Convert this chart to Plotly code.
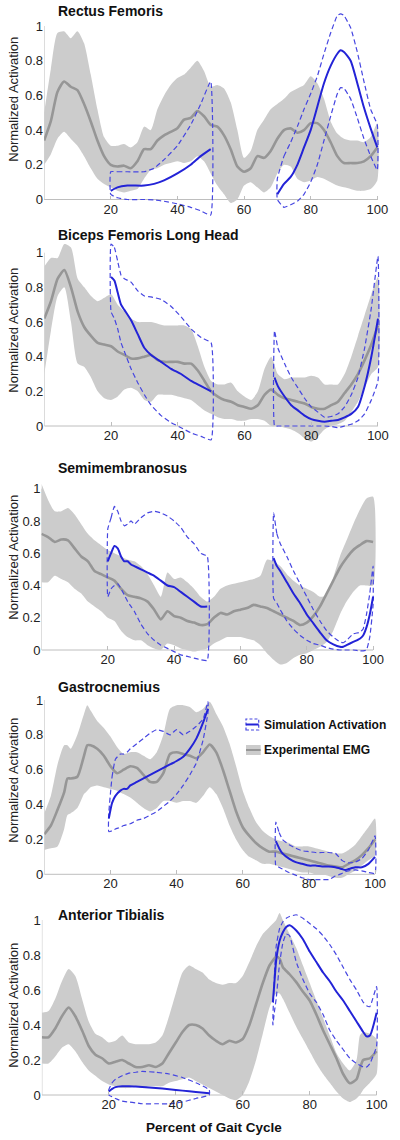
import plotly.graph_objects as go

W, H = 400, 1140
FONT = "Liberation Sans, Arial, Helvetica, sans-serif"

titles = ["Rectus Femoris", "Biceps Femoris Long Head", "Semimembranosus",
          "Gastrocnemius", "Anterior Tibialis"]
x_ticks = [20, 40, 60, 80, 100]
y_ticks = [0, 0.2, 0.4, 0.6, 0.8, 1]
y_tick_text = ["0", "0.2", "0.4", "0.6", "0.8", "1"]
y_label = "Normalized Activation"
x_label = "Percent of Gait Cycle"
legend_sim = "Simulation Activation"
legend_emg = "Experimental EMG"

step2 = list(range(0, 101, 2))

# ---------------- Rectus Femoris ----------------
rf_emg_x = step2
rf_emg_mean = [0.34, 0.45, 0.62, 0.68, 0.65, 0.63, 0.55, 0.45, 0.34, 0.25, 0.20, 0.19, 0.195, 0.18, 0.22, 0.29, 0.29,
               0.34, 0.37, 0.39, 0.41, 0.46, 0.47, 0.51, 0.48, 0.43, 0.42, 0.37, 0.29, 0.19, 0.16, 0.18, 0.25, 0.24,
               0.28, 0.35, 0.40, 0.41, 0.385, 0.40, 0.44, 0.44, 0.40, 0.33, 0.25, 0.21, 0.21, 0.21, 0.22, 0.25, 0.30]
rf_emg_upper = [0.50, 0.75, 0.96, 0.97, 0.93, 0.97, 0.90, 0.72, 0.52, 0.36, 0.31, 0.31, 0.32, 0.30, 0.33, 0.42, 0.40,
                0.52, 0.60, 0.66, 0.70, 0.72, 0.76, 0.80, 0.74, 0.65, 0.66, 0.64, 0.56, 0.40, 0.24, 0.28, 0.40, 0.46,
                0.52, 0.55, 0.58, 0.62, 0.64, 0.66, 0.71, 0.67, 0.58, 0.45, 0.38, 0.35, 0.34, 0.34, 0.33, 0.36, 0.44]
rf_emg_lower = [0.20, 0.26, 0.35, 0.39, 0.35, 0.31, 0.25, 0.18, 0.12, 0.09, 0.07, 0.05, 0.04, 0.05, 0.06, 0.12, 0.17,
                0.18, 0.20, 0.21, 0.22, 0.21, 0.22, 0.25, 0.22, 0.15, 0.08, 0.03, -0.02, 0.0, 0.08, 0.10, 0.07, 0.04,
                0.07, 0.15, 0.20, 0.19, 0.12, 0.10, 0.11, 0.13, 0.12, 0.10, 0.08, 0.07, 0.06, 0.05, 0.05, 0.06, 0.11]
rf_p1_x = [20, 22, 25, 30, 33, 36, 40, 44, 47, 50]
rf_p1_sim = [0.05, 0.07, 0.08, 0.08, 0.09, 0.11, 0.15, 0.20, 0.25, 0.29]
rf_p1_up = [0.16, 0.16, 0.16, 0.16, 0.18, 0.23, 0.31, 0.43, 0.55, 0.68]
rf_p1_lo = [0.03, 0.01, 0.0, 0.0, -0.002, -0.01, -0.025, -0.045, -0.065, -0.09]
rf_p2_x = [70, 72, 74, 76, 78, 80, 82, 84, 86, 88, 89, 90, 92, 94, 96, 98, 100]
rf_p2_sim = [0.03, 0.09, 0.13, 0.20, 0.30, 0.40, 0.535, 0.67, 0.77, 0.84, 0.86, 0.85, 0.80, 0.67, 0.53, 0.41, 0.30]
rf_p2_up = [0.12, 0.25, 0.33, 0.42, 0.52, 0.61, 0.71, 0.84, 0.96, 1.06, 1.07, 1.06, 0.99, 0.85, 0.68, 0.52, 0.43]
rf_p2_lo = [0.0, -0.045, -0.03, -0.01, 0.03, 0.10, 0.20, 0.34, 0.48, 0.61, 0.645, 0.64, 0.58, 0.47, 0.35, 0.25, 0.17]

# ---------------- Biceps Femoris Long Head ----------------
bf_emg_x = step2
bf_emg_mean = [0.62, 0.72, 0.85, 0.90, 0.80, 0.66, 0.57, 0.52, 0.48, 0.47, 0.46, 0.43, 0.41, 0.39, 0.39, 0.40, 0.41,
               0.38, 0.37, 0.37, 0.37, 0.36, 0.36, 0.32, 0.26, 0.20, 0.17, 0.15, 0.14, 0.12, 0.11, 0.10, 0.12, 0.18,
               0.21, 0.18, 0.16, 0.15, 0.14, 0.13, 0.11, 0.10, 0.10, 0.12, 0.14, 0.19, 0.24, 0.30, 0.38, 0.47, 0.58]
bf_emg_upper = [0.92, 0.97, 0.97, 1.05, 1.03, 0.85, 0.80, 0.75, 0.72, 0.74, 0.76, 0.70, 0.66, 0.62, 0.60, 0.60, 0.60,
                0.59, 0.58, 0.58, 0.58, 0.58, 0.56, 0.46, 0.34, 0.26, 0.24, 0.24, 0.25, 0.20, 0.17, 0.15, 0.20, 0.33,
                0.40, 0.30, 0.27, 0.28, 0.28, 0.28, 0.29, 0.28, 0.24, 0.24, 0.24, 0.30, 0.40, 0.52, 0.64, 0.76, 0.86]
bf_emg_lower = [0.30, 0.55, 0.75, 0.80, 0.60, 0.36, 0.34, 0.28, 0.20, 0.16, 0.15, 0.17, 0.21, 0.22, 0.20, 0.15, 0.14,
                0.18, 0.18, 0.18, 0.17, 0.16, 0.15, 0.12, 0.09, 0.07, 0.05, 0.04, 0.04, 0.03, 0.03, 0.04, 0.04, 0.03,
                0.0, 0.0, -0.01, -0.02, -0.04, -0.07, -0.09, -0.06, -0.02, 0.0, 0.01, 0.03, 0.08, 0.14, 0.22, 0.30, 0.34]
bf_p1_x = [20, 21, 22, 23, 24, 26, 28, 30, 32, 35, 38, 41, 44, 47, 50]
bf_p1_sim = [0.86, 0.84, 0.77, 0.70, 0.67, 0.61, 0.53, 0.45, 0.41, 0.37, 0.33, 0.30, 0.26, 0.23, 0.20]
bf_p1_up = [1.05, 1.03, 0.95, 0.87, 0.85, 0.83, 0.78, 0.75, 0.745, 0.73, 0.69, 0.63, 0.56, 0.51, 0.48]
bf_p1_lo = [0.66, 0.62, 0.56, 0.48, 0.43, 0.33, 0.25, 0.18, 0.12, 0.06, 0.02, -0.01, -0.04, -0.06, -0.08]
bf_p2_x = [69, 70, 72, 74, 76, 78, 80, 82, 84, 86, 88, 90, 92, 94, 96, 98, 100]
bf_p2_sim = [0.28, 0.23, 0.17, 0.12, 0.09, 0.06, 0.04, 0.03, 0.025, 0.03, 0.035, 0.05, 0.07, 0.11, 0.23, 0.40, 0.62]
bf_p2_up = [0.55, 0.45, 0.36, 0.28, 0.22, 0.16, 0.11, 0.08, 0.05, 0.055, 0.07, 0.11, 0.18, 0.28, 0.45, 0.68, 0.98]
bf_p2_lo = [0.0, 0.0, 0.0, 0.0, 0.0, 0.0, 0.0, 0.0, 0.0, -0.003, -0.01, 0.0, 0.01, 0.03, 0.07, 0.15, 0.26]

# ---------------- Semimembranosus ----------------
sm_emg_x = step2
sm_emg_mean = [0.72, 0.70, 0.67, 0.685, 0.68, 0.63, 0.58, 0.55, 0.49, 0.47, 0.45, 0.43, 0.38, 0.34, 0.33, 0.32, 0.30,
               0.25, 0.19, 0.24, 0.21, 0.20, 0.18, 0.17, 0.155, 0.16, 0.20, 0.23, 0.22, 0.24, 0.25, 0.26, 0.28, 0.27,
               0.26, 0.24, 0.22, 0.20, 0.18, 0.155, 0.17, 0.21, 0.27, 0.35, 0.43, 0.51, 0.57, 0.62, 0.65, 0.675, 0.67]
sm_emg_upper = [1.03, 0.93, 0.86, 0.86, 0.88, 0.84, 0.78, 0.72, 0.68, 0.65, 0.62, 0.60, 0.58, 0.56, 0.55, 0.52, 0.47,
                0.40, 0.33, 0.48, 0.44, 0.45, 0.42, 0.38, 0.33, 0.30, 0.33, 0.38, 0.40, 0.41, 0.42, 0.43, 0.44, 0.46,
                0.56, 0.55, 0.52, 0.47, 0.43, 0.40, 0.38, 0.36, 0.33, 0.34, 0.45, 0.58, 0.68, 0.78, 0.87, 0.94, 0.95]
sm_emg_lower = [0.42, 0.42, 0.46, 0.44, 0.42, 0.38, 0.35, 0.30, 0.27, 0.24, 0.20, 0.18, 0.12, 0.08, 0.06, 0.06, 0.03,
                0.01, 0.0, 0.04, 0.03, 0.01, 0.0, -0.01, 0.0, 0.01, 0.04, 0.06, 0.08, 0.08, 0.08, 0.07, 0.06, 0.03,
                -0.02, -0.06, -0.09, -0.08, -0.05, -0.03, -0.02, 0.0, 0.02, 0.05, 0.12, 0.22, 0.30, 0.36, 0.40, 0.40, 0.40]
sm_p1_x = [20, 21, 22, 23, 24, 25, 26, 27, 28, 30, 32, 34, 36, 38, 40, 42, 44, 46, 48, 50]
sm_p1_sim = [0.55, 0.60, 0.645, 0.63, 0.58, 0.55, 0.55, 0.53, 0.52, 0.50, 0.48, 0.46, 0.43, 0.40, 0.39, 0.36, 0.33,
             0.30, 0.27, 0.27]
sm_p1_up = [0.75, 0.82, 0.89, 0.86, 0.80, 0.77, 0.78, 0.80, 0.78, 0.82, 0.85, 0.86, 0.85, 0.83, 0.80, 0.76, 0.70,
            0.66, 0.60, 0.58]
sm_p1_lo = [0.33, 0.38, 0.40, 0.41, 0.38, 0.34, 0.30, 0.27, 0.24, 0.16, 0.10, 0.06, 0.03, 0.01, -0.01, -0.03, -0.04,
            -0.05, -0.06, -0.065]
sm_p2_x = [70, 71, 72, 74, 76, 78, 80, 82, 84, 86, 88, 90, 91, 92, 94, 96, 97, 98, 99, 100]
sm_p2_sim = [0.57, 0.52, 0.49, 0.42, 0.35, 0.29, 0.22, 0.165, 0.11, 0.06, 0.035, 0.02, 0.02, 0.03, 0.05, 0.07, 0.09,
             0.14, 0.22, 0.33]
sm_p2_up = [0.85, 0.72, 0.66, 0.58, 0.49, 0.41, 0.33, 0.25, 0.18, 0.12, 0.08, 0.05, 0.045, 0.06, 0.10, 0.11, 0.13,
            0.22, 0.35, 0.52]
sm_p2_lo = [0.32, 0.29, 0.25, 0.18, 0.13, 0.09, 0.06, 0.04, 0.03, 0.015, 0.005, 0.0, 0.0, 0.0, 0.0, -0.005, -0.005,
            0.0, 0.08, 0.28]

# ---------------- Gastrocnemius ----------------
ga_emg_x = [0, 2, 4, 6, 7, 8, 10, 12, 13, 14] + list(range(16, 101, 2))
ga_emg_mean = [0.23, 0.28, 0.37, 0.47, 0.55, 0.55, 0.56, 0.68, 0.74, 0.74, 0.72, 0.68, 0.62, 0.58, 0.60, 0.62, 0.61,
               0.57, 0.53, 0.53, 0.58, 0.69, 0.70, 0.69, 0.68, 0.665, 0.70, 0.745, 0.70, 0.60, 0.48, 0.36, 0.27, 0.22,
               0.18, 0.15, 0.13, 0.13, 0.12, 0.11, 0.10, 0.09, 0.08, 0.07, 0.06, 0.05, 0.045, 0.04, 0.06, 0.08, 0.11,
               0.15, 0.20]
ga_emg_upper = [0.35, 0.45, 0.63, 0.74, 0.74, 0.72, 0.80, 0.92, 0.97, 0.94, 0.88, 0.84, 0.79, 0.73, 0.69, 0.70, 0.70,
                0.68, 0.66, 0.70, 0.80, 0.95, 0.97, 0.97, 0.96, 0.93, 0.95, 0.99, 0.92, 0.85, 0.75, 0.62, 0.48, 0.38,
                0.30, 0.25, 0.22, 0.20, 0.19, 0.18, 0.16, 0.16, 0.16, 0.15, 0.14, 0.13, 0.12, 0.12, 0.14, 0.17, 0.22,
                0.27, 0.32]
ga_emg_lower = [0.14, 0.15, 0.16, 0.26, 0.34, 0.35, 0.38, 0.46, 0.48, 0.50, 0.51, 0.50, 0.49, 0.48, 0.46, 0.44, 0.41,
                0.38, 0.36, 0.38, 0.42, 0.42, 0.41, 0.42, 0.42, 0.41, 0.45, 0.50, 0.46, 0.38, 0.28, 0.20, 0.14, 0.10,
                0.08, 0.06, 0.06, 0.05, 0.04, 0.03, 0.02, 0.01, 0.01, 0.0, 0.0, -0.01, -0.02, -0.02, 0.0, 0.02, 0.05,
                0.08, 0.11]
ga_p1_x = [19.5, 20.5, 21.5, 23, 24, 25, 26, 28, 30, 32, 34, 36, 38, 40, 42, 44, 46, 48, 49.5]
ga_p1_sim = [0.32, 0.41, 0.45, 0.48, 0.49, 0.49, 0.51, 0.53, 0.55, 0.57, 0.59, 0.61, 0.63, 0.65, 0.675, 0.72, 0.78,
             0.87, 0.95]
ga_p1_up = [0.35, 0.56, 0.66, 0.69, 0.69, 0.70, 0.72, 0.75, 0.78, 0.81, 0.83, 0.82, 0.80, 0.83, 0.80, 0.82, 0.85,
            0.89, 0.99]
ga_p1_lo = [0.245, 0.25, 0.26, 0.27, 0.28, 0.285, 0.29, 0.31, 0.32, 0.34, 0.36, 0.39, 0.42, 0.46, 0.51, 0.57, 0.64,
            0.77, 0.93]
ga_p2_x = [70, 71, 72, 74, 76, 78, 80, 82, 84, 86, 88, 90, 91, 92, 94, 96, 98, 100]
ga_p2_sim = [0.19, 0.15, 0.12, 0.09, 0.07, 0.06, 0.05, 0.05, 0.045, 0.045, 0.04, 0.03, 0.025, 0.03, 0.04, 0.04, 0.06,
             0.10]
ga_p2_up = [0.30, 0.24, 0.20, 0.17, 0.15, 0.135, 0.13, 0.125, 0.125, 0.125, 0.12, 0.08, 0.07, 0.065, 0.07, 0.09,
            0.14, 0.22]
ga_p2_lo = [0.05, 0.04, 0.03, 0.01, -0.005, -0.02, -0.03, -0.03, -0.03, -0.03, -0.01, 0.005, 0.015, 0.02, 0.025,
            0.02, 0.01, 0.005]

# ---------------- Anterior Tibialis ----------------
ta_emg_x = list(range(0, 71, 2)) + [71] + list(range(72, 95, 2)) + [95, 96, 98, 100]
ta_emg_mean = [0.33, 0.33, 0.38, 0.45, 0.50, 0.45, 0.37, 0.28, 0.23, 0.21, 0.18, 0.19, 0.20, 0.18, 0.16, 0.16, 0.17,
               0.16, 0.18, 0.24, 0.30, 0.36, 0.40, 0.40, 0.38, 0.34, 0.31, 0.29, 0.31, 0.30, 0.32, 0.40, 0.52, 0.64,
               0.74, 0.79, 0.78, 0.73, 0.69, 0.645, 0.59, 0.54, 0.46, 0.37, 0.29, 0.21, 0.12, 0.067, 0.09, 0.15, 0.20,
               0.21, 0.25]
ta_emg_upper = [0.47, 0.48, 0.55, 0.65, 0.72, 0.68, 0.55, 0.42, 0.35, 0.33, 0.30, 0.31, 0.34, 0.30, 0.29, 0.29, 0.29,
                0.30, 0.34, 0.45, 0.58, 0.70, 0.74, 0.72, 0.70, 0.66, 0.64, 0.63, 0.64, 0.64, 0.68, 0.76, 0.85, 0.92,
                0.96, 1.00, 1.04, 1.00, 0.92, 0.84, 0.74, 0.64, 0.54, 0.44, 0.34, 0.24, 0.18, 0.14, 0.20, 0.34, 0.36,
                0.35, 0.32]
ta_emg_lower = [0.18, 0.18, 0.22, 0.27, 0.29, 0.25, 0.19, 0.14, 0.11, 0.08, 0.06, 0.05, 0.04, 0.04, 0.05, 0.04, 0.05,
                0.05, 0.05, 0.07, 0.08, 0.09, 0.10, 0.08, 0.06, 0.04, 0.02, 0.0, -0.02, -0.03, 0.0, 0.08, 0.20, 0.35,
                0.50, 0.58, 0.58, 0.55, 0.47, 0.39, 0.32, 0.25, 0.18, 0.12, 0.07, 0.02, -0.02, -0.04, -0.02, 0.0, 0.03,
                0.07, 0.12]
ta_p1_x = [20, 21, 22, 24, 26, 28, 30, 34, 38, 42, 46, 50]
ta_p1_sim = [0.02, 0.035, 0.045, 0.05, 0.05, 0.048, 0.046, 0.04, 0.033, 0.025, 0.017, 0.01]
ta_p1_up = [0.03, 0.07, 0.09, 0.11, 0.125, 0.13, 0.135, 0.13, 0.12, 0.10, 0.07, 0.03]
ta_p1_lo = [0.0, -0.01, -0.02, -0.035, -0.04, -0.045, -0.05, -0.05, -0.05, -0.04, -0.02, 0.0]
ta_p2_x = [69, 69.5, 70, 71, 72, 73, 74, 76, 78, 80, 82, 84, 86, 88, 90, 92, 94, 96, 97, 98, 100]
ta_p2_sim = [0.53, 0.65, 0.77, 0.88, 0.93, 0.96, 0.97, 0.94, 0.89, 0.82, 0.76, 0.70, 0.65, 0.59, 0.54, 0.48, 0.42,
             0.36, 0.335, 0.34, 0.47]
ta_p2_up = [0.43, 0.70, 0.85, 0.95, 0.99, 1.01, 1.02, 1.03, 1.01, 0.98, 0.95, 0.91, 0.86, 0.80, 0.73, 0.66, 0.60,
            0.53, 0.51, 0.505, 0.62]
ta_p2_lo = [0.40, 0.48, 0.55, 0.75, 0.87, 0.92, 0.91, 0.76, 0.66, 0.58, 0.53, 0.46, 0.37, 0.31, 0.26, 0.21, 0.18,
            0.16, 0.16, 0.18, 0.28]

panels = [
    (rf_emg_x, rf_emg_mean, rf_emg_upper, rf_emg_lower,
     [(rf_p1_x, rf_p1_sim, rf_p1_up, rf_p1_lo), (rf_p2_x, rf_p2_sim, rf_p2_up, rf_p2_lo)]),
    (bf_emg_x, bf_emg_mean, bf_emg_upper, bf_emg_lower,
     [(bf_p1_x, bf_p1_sim, bf_p1_up, bf_p1_lo), (bf_p2_x, bf_p2_sim, bf_p2_up, bf_p2_lo)]),
    (sm_emg_x, sm_emg_mean, sm_emg_upper, sm_emg_lower,
     [(sm_p1_x, sm_p1_sim, sm_p1_up, sm_p1_lo), (sm_p2_x, sm_p2_sim, sm_p2_up, sm_p2_lo)]),
    (ga_emg_x, ga_emg_mean, ga_emg_upper, ga_emg_lower,
     [(ga_p1_x, ga_p1_sim, ga_p1_up, ga_p1_lo), (ga_p2_x, ga_p2_sim, ga_p2_up, ga_p2_lo)]),
    (ta_emg_x, ta_emg_mean, ta_emg_upper, ta_emg_lower,
     [(ta_p1_x, ta_p1_sim, ta_p1_up, ta_p1_lo), (ta_p2_x, ta_p2_sim, ta_p2_up, ta_p2_lo)]),
]

# layout geometry in pixels: x of 0, x of 100, y of 1, y of 0, title y, ylabel y
geom = [
    (45.0, 385.0, 26.0, 199.5, 11, 99),
    (45.2, 385.7, 252.7, 426.0, 235, 330),
    (42.3, 380.7, 488.7, 650.0, 468, 557),
    (45.2, 382.7, 700.0, 874.3, 687, 780),
    (42.7, 384.3, 920.0, 1095.0, 915, 1005),
]

BAND = "rgb(204,204,204)"
MEAN = "rgb(150,150,150)"
SIM = "rgb(35,35,215)"
DASH = "rgb(70,70,225)"
AXC = "rgb(190,190,190)"
XR = [0, 100.8]
YR = [-0.13, 1.1]

fig = go.Figure()
layout = dict(width=W, height=H, margin=dict(l=0, r=0, t=0, b=0),
              paper_bgcolor="white", plot_bgcolor="rgba(0,0,0,0)",
              showlegend=False, font=dict(family=FONT, size=13, color="#222"))
annotations = []
shapes = []

for i, (ex, em, eu, el, phases) in enumerate(panels):
    k = "" if i == 0 else str(i + 1)
    xa, ya = "x" + k, "y" + k
    fig.add_trace(go.Scatter(x=list(ex) + list(ex)[::-1], y=list(eu) + list(el)[::-1],
                             fill="toself", fillcolor=BAND, line=dict(width=0, shape="spline", smoothing=0.6),
                             mode="lines", hoverinfo="skip", xaxis=xa, yaxis=ya))
    fig.add_trace(go.Scatter(x=ex, y=em, mode="lines",
                             line=dict(color=MEAN, width=2.6, shape="spline", smoothing=0.6),
                             xaxis=xa, yaxis=ya))
    for (px, ps, pu, pl) in phases:
        lx = list(px) + list(px)[::-1] + [px[0]]
        ly = list(pu) + list(pl)[::-1] + [pu[0]]
        fig.add_trace(go.Scatter(x=lx, y=ly, mode="lines",
                                 line=dict(color=DASH, width=1.2, dash="5px,3px", shape="spline", smoothing=0.4),
                                 xaxis=xa, yaxis=ya))
        fig.add_trace(go.Scatter(x=px, y=ps, mode="lines",
                                 line=dict(color=SIM, width=2, shape="spline", smoothing=0.6),
                                 xaxis=xa, yaxis=ya))

    x0, x100, y1, y0, ty, ly_ = geom[i]
    ppx = (x100 - x0) / 100.0
    ppy = y0 - y1
    top = y1 - (YR[1] - 1) * ppy
    bot = y0 - YR[0] * ppy
    layout["xaxis" + k] = dict(range=XR, domain=[x0 / W, (x0 + XR[1] * ppx) / W], anchor="free",
                               position=1 - y0 / H, tickvals=x_ticks, ticks="inside", ticklen=4,
                               tickcolor=AXC, showgrid=False, zeroline=False, showline=False,
                               tickfont=dict(size=13, color="#222"), fixedrange=True)
    layout["yaxis" + k] = dict(range=YR, domain=[1 - bot / H, 1 - top / H], anchor=xa,
                               tickvals=y_ticks, ticktext=y_tick_text,
                               showgrid=False, zeroline=False, showline=False, ticks="",
                               ticklabelstandoff=0, tickfont=dict(size=13, color="#222"), fixedrange=True)
    shapes.append(dict(type="line", xref=xa, yref=ya, x0=0, x1=100, y0=0, y1=0,
                       line=dict(color=AXC, width=1), layer="below"))
    shapes.append(dict(type="line", xref=xa, yref=ya, x0=0, x1=0, y0=0, y1=1,
                       line=dict(color=AXC, width=1), layer="below"))
    annotations.append(dict(text="<b>" + titles[i] + "</b>", xref="paper", yref="paper",
                            x=57 / W, y=1 - ty / H, xanchor="left", yanchor="middle", showarrow=False,
                            font=dict(size=14, color="#111", family=FONT)))
    annotations.append(dict(text=y_label, xref="paper", yref="paper", textangle=-90,
                            x=13 / W, y=1 - ly_ / H, xanchor="center", yanchor="middle", showarrow=False,
                            font=dict(size=13, color="#222", family=FONT)))

annotations.append(dict(text="<b>" + x_label + "</b>", xref="paper", yref="paper",
                        x=218 / W, y=1 - 1127 / H, xanchor="center", yanchor="middle", showarrow=False,
                        font=dict(size=13.5, color="#111", family=FONT)))

# legend (drawn in panel 4)
shapes.append(dict(type="rect", xref="paper", yref="paper", x0=251 / W, x1=264 / W,
                   y0=1 - 730 / H, y1=1 - 719 / H, line=dict(color=DASH, width=1.2, dash="3px,2px"),
                   fillcolor="rgba(0,0,0,0)"))
shapes.append(dict(type="line", xref="paper", yref="paper", x0=251 / W, x1=264 / W,
                   y0=1 - 724.5 / H, y1=1 - 724.5 / H, line=dict(color=SIM, width=2)))
shapes.append(dict(type="rect", xref="paper", yref="paper", x0=251 / W, x1=266 / W,
                   y0=1 - 755 / H, y1=1 - 745 / H, line=dict(width=0), fillcolor=BAND))
shapes.append(dict(type="line", xref="paper", yref="paper", x0=251 / W, x1=266 / W,
                   y0=1 - 750 / H, y1=1 - 750 / H, line=dict(color=MEAN, width=2)))
annotations.append(dict(text="<b>" + legend_sim + "</b>", xref="paper", yref="paper",
                        x=267 / W, y=1 - 725 / H, xanchor="left", yanchor="middle", showarrow=False,
                        font=dict(size=12, color="#111", family=FONT)))
annotations.append(dict(text="<b>" + legend_emg + "</b>", xref="paper", yref="paper",
                        x=267 / W, y=1 - 750 / H, xanchor="left", yanchor="middle", showarrow=False,
                        font=dict(size=12, color="#111", family=FONT)))

layout["annotations"] = annotations
layout["shapes"] = shapes
fig.update_layout(**layout)
fig.write_html("out.html", config={"displayModeBar": False, "staticPlot": True},
               post_script="document.body.style.margin='0px';document.body.style.overflow='hidden';")
